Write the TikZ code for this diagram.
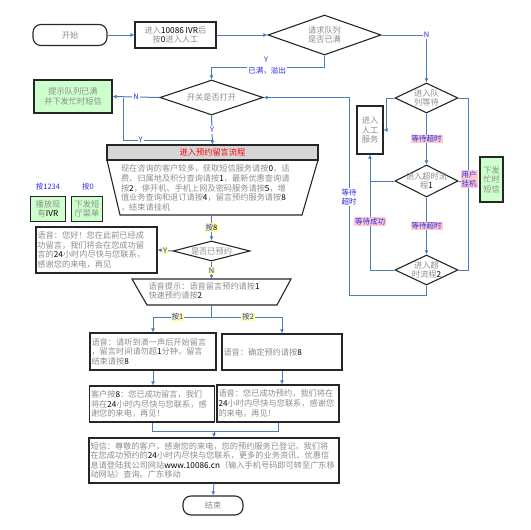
\documentclass[tikz,border=0pt]{standalone}
\usepackage{xcolor}
\usepackage{fontspec}
\setmainfont{Noto Sans CJK SC}
\usepackage{tikz}
\usetikzlibrary{positioning}
\usetikzlibrary{arrows.meta,shapes.geometric}

\definecolor{lineblue}{HTML}{4A7EBB}
\definecolor{lblblue}{HTML}{2B2BF0}
\definecolor{pinkbg}{HTML}{FFC9CC}
\definecolor{yelbg}{HTML}{FFFF99}
\definecolor{greenbg}{HTML}{CCFFCC}
\definecolor{hdrgray}{HTML}{D6D6D6}
\definecolor{txtgray}{HTML}{8C8C8C}

\newcommand\bk[1]{\textcolor{black}{#1}}

\tikzset{
  txt/.style={text=txtgray, font=\fontsize{8.2}{9.6}\selectfont},
  box/.style={txt, draw=black!85, line width=1.1pt, inner sep=1.5pt},
  greenbox/.style={box, fill=greenbg, align=center},
  term/.style={box, rounded corners=8pt},
  dia/.style={draw=black!85, line width=1.1pt, diamond, inner sep=0pt},
  con/.style={draw=lineblue, line width=1pt},
  arr/.style={con, -{Latex[length=4pt,width=4pt]}},
  lbl/.style={text=lblblue, font=\fontsize{7.5}{9}\selectfont, fill=white, inner sep=1pt},
  ylbl/.style={lbl, fill=yelbg},
  plbl/.style={lbl, fill=pinkbg, align=center},
}

\begin{document}
\begin{tikzpicture}[x=1pt,y=-1pt]
  \useasboundingbox (0,0) rectangle (531,530);

  % top row
  \node (S) [term, minimum width=74pt, minimum height=21pt] at (70,35) {开始};
  \node (IVR) [box, align=center, minimum width=81pt, minimum height=26pt] at (175.5,35) {进入\bk{10086 IVR}后\\按\bk{0}进入人工};
  \node (Q) [dia, minimum width=113pt, minimum height=40pt,
    label={[txt,align=center]center:{请求队列\\是否已满}}] at (324.5,35) {};

  % switch
  \node (SW) [dia, minimum width=103pt, minimum height=35pt,
    label={[txt]center:开关是否打开}] at (211.5,97.5) {};
  \node (FULL) [greenbox, minimum width=78pt, minimum height=33pt] at (73,96.5) {提示队列已满\\并下发忙时短信};

  % booking flow
  \node (HDR) [box, fill=hdrgray, text=red, minimum width=211pt, minimum height=15pt] at (212.5,152.5) {进入预约留言流程};
  \draw [box] (107,160) -- (318,160) -- (302,215) -- (120,215) -- cycle;
  \node (MENU) [txt, text width=180pt, align=left] at (211,188)
    {现在咨询的客户较多，获取短信服务请按\bk{0}，话\\费、归属地及积分查询请按\bk{1}，最新优惠查询请\\按\bk{2}，停开机、手机上网及密码服务请按\bk{5}，增\\值业务查询和退订请按\bk{4}，留言预约服务请按\bk{8}\\，结束请挂机};
  \coordinate (menuB) at (211.5,215);

  \node (K1) [lbl, fill=none] at (48,187) {按1234};
  \node (K0) [lbl, fill=none] at (88,187) {按0};
  \node (PLAY) [greenbox, minimum width=35pt, minimum height=25pt] at (48,209) {播放现\\有\bk{IVR}};
  \node (SMSM) [greenbox, minimum width=31pt, minimum height=25pt] at (87,209) {下发短\\厅菜单};

  \node (BK) [dia, minimum width=77pt, minimum height=20pt,
    label={[txt]center:是否已预约}] at (211.5,251) {};
  \node (OLD) [box, text width=118pt, align=left, minimum width=121pt, minimum height=46pt] at (96.5,250)
    {语音：您好！您在此前已经成\\功留言，我们将会在您成功留\\言的\bk{24}小时内尽快与您联系，\\感谢您的来电，再见};

  \draw [box] (132,279) -- (291,279) -- (277,305) -- (147,305) -- cycle;
  \node (PROMPT) [txt, text width=126pt, align=left] at (211.5,291) {语音提示：语音留言预约请按\bk{1}\\快速预约请按\bk{2}};
  \coordinate (promptT) at (211.5,279);
  \coordinate (promptB) at (211.5,305);
  \coordinate (split) at (211.5,317);

  \node (REC) [box, text width=123pt, align=left, minimum width=126pt, minimum height=37pt] at (153,351.5)
    {语音：请听到滴一声后开始留言\\，留言时间请勿超\bk{1}分钟，留言\\结束请按\bk{8}};
  \node (CONF) [box, text width=117pt, align=left, minimum width=120pt, minimum height=36pt] at (282,352)
    {语音：确定预约请按\bk{8}};
  \node (DONE1) [box, text width=122pt, align=left, minimum width=125pt, minimum height=36pt] at (152,404)
    {客户按\bk{8}：您已成功留言，我们\\将在\bk{24}小时内尽快与您联系，感\\谢您的来电，再见！};
  \node (DONE2) [box, text width=119pt, align=left, minimum width=122pt, minimum height=37pt] at (278,403.5)
    {语音：您已成功预约，我们将在\\\bk{24}小时内尽快与您联系，感谢您\\的来电，再见！};
  \coordinate (mg) at (214,431);
  \node (SMS) [box, text width=247pt, align=left, minimum width=250pt, minimum height=45pt] at (214,460.5)
    {短信：尊敬的客户，感谢您的来电，您的预约服务已登记，我们将\\在您成功预约的\bk{24}小时内尽快与您联系，更多的业务资讯、优惠信\\息请登陆我公司网站\bk{www.10086.cn}（输入手机号码即可转至广东移\\动网站）查询。广东移动};
  \node (END) [term, minimum width=60pt, minimum height=19pt] at (213,505.5) {结束};

  % queue side
  \node (QW) [dia, minimum width=63pt, minimum height=30pt,
    label={[txt,align=center]center:{进入队\\列等待}}] at (426.5,98) {};
  \node (MAN) [box, align=center, minimum width=26pt, minimum height=48pt] at (370,130) {进入\\人工\\服务};
  \node (T1) [dia, minimum width=63pt, minimum height=32pt,
    label={[txt,align=center]center:{进入超时流\\程\bk{1}}}] at (426.5,181) {};
  \node (T2) [dia, minimum width=63pt, minimum height=30pt,
    label={[txt,align=center]center:{进入超\\时流程\bk{2}}}] at (426.5,270) {};
  \node (BUSY) [greenbox, minimum width=23pt, minimum height=45pt] at (491.5,179.5) {下发\\忙时\\短信};
  \coordinate (rt) at (468,98);
  \coordinate (lp) at (349,295);

  % connectors
  \draw [arr] (S) -- (IVR);
  \draw [arr] (IVR) -- (Q);
  \draw [arr] (Q.east) -| node [lbl] {N} (QW.north);
  \draw [arr] (Q.south) -- ++(0,12) -| (SW.north);
  \node (OVY) [lbl] at (266,60) {Y};
  \node (OVT) [lbl] at (267,71) {已满，溢出};
  \draw [arr] (SW.west) -- node [lbl] {N} (FULL.east);
  \coordinate (nj) at (123,97.5);
  \coordinate (yj) at (211.5,140);
  \draw [con] (nj) |- node [lbl, pos=0.6] {Y} (yj);
  \draw [arr] (SW.south) -- node [lbl] {Y} (HDR.north);
  \draw [arr] (menuB) -- node [ylbl] {按\bk{8}} (BK.north);
  \draw [arr] (BK.west) -- node [ylbl] {Y} (OLD.east);
  \draw [arr] (BK.south) -- node [ylbl] {N} (promptT);
  \draw [con] (promptB) -- (split);
  \draw [arr] (split) -| node [ylbl, pos=0.29] {按1} (REC.north);
  \draw [arr] (split) -| node [ylbl, pos=0.26] {按2} (CONF.north);
  \draw [arr] (REC.south) -- (REC.south |- DONE1.north);
  \draw [arr] (CONF.south) -- (CONF.south |- DONE2.north);
  \draw [con] (DONE1.south) |- (mg);
  \draw [con] (DONE2.south) |- (mg);
  \draw [arr] (mg) -- (SMS.north);
  \draw [arr] (SMS.south) -- (END.north);

  \draw [arr] (QW.south) -- node [plbl] {等待超时} (T1.north);
  \draw [arr] (T1.south) -- node [plbl] {等待超时} (T2.north);
  \draw [arr] (QW.west) -- ++(-8,0) |- (MAN.east);
  \draw [arr] (T2.west) -| node [plbl, pos=0.71] {等待成功} (MAN.south);
  \draw [con] (T1.west) -- (T1.west -| MAN.south);
  \draw [con] (QW.east) -- (rt) |- (T2.east);
  \draw [con] (T1.east) -- (T1.east -| rt);
  \node (HANG) [plbl] at (469,179) {用户\\挂机};
  \draw [arr] (T2.south) |- (lp) |- (SW.east);
  \node (WTO) [lbl, align=center] at (349,197) {等待\\超时};
\end{tikzpicture}
\end{document}
